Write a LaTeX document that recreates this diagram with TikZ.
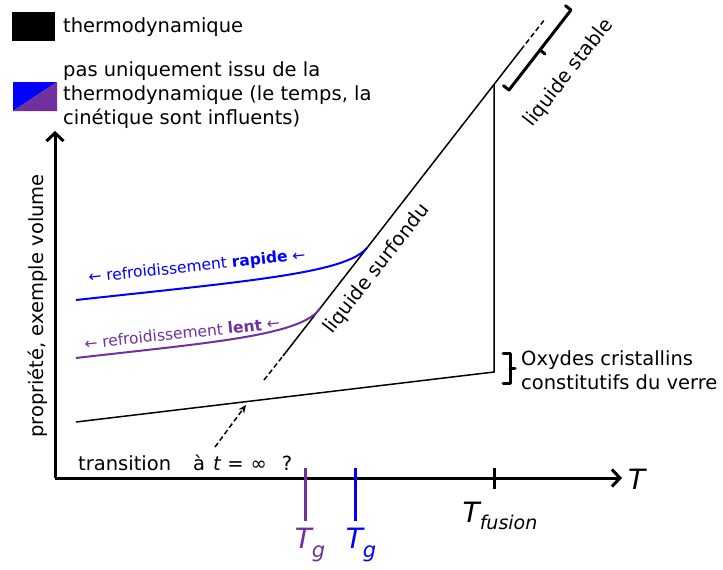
\documentclass[tikz,border=0pt]{standalone}
\usepackage{fontspec}
\setmainfont{DejaVu Sans}
\usetikzlibrary{arrows.meta}
\definecolor{myblue}{RGB}{0,0,255}
\definecolor{mypurple}{RGB}{112,48,160}
\begin{document}
\begin{tikzpicture}[x=1pt,y=-1pt,
  axisline/.style={line width=3pt,-{Straight Barb[length=8pt,width=17pt,line width=3pt]}},
  thinline/.style={line width=1.5pt},
  dashline/.style={line width=1.5pt,dash pattern=on 5pt off 3pt},
  curve/.style={line width=2pt},
  tick/.style={line width=3pt},
  brack/.style={line width=3pt,line cap=round,line join=round},
  txt/.style={inner sep=0pt,font=\fontsize{19.5}{24}\selectfont},
  small/.style={inner sep=0pt,font=\fontsize{15.5}{18}\selectfont},
  big/.style={inner sep=0pt,font=\fontsize{28}{28}\selectfont\itshape}
]
\useasboundingbox (0,0) rectangle (723,570);
% legend
\fill[black] (12,12) rectangle (55,41);
\fill[myblue] (13,82) -- (57,82) -- (13,111) -- cycle;
\fill[mypurple] (57,82) -- (57,111) -- (13,111) -- cycle;
\node[txt,anchor=west] (legthermo) at (63,27) {thermodynamique};
\node[txt,anchor=north west,align=left] (legkin) at (63,61) {pas uniquement issu de la\\thermodynamique (le temps, la\\cinétique sont influents)};
% axes
\coordinate (origin) at (55,478);
\coordinate (ytip) at (55,131);
\coordinate (xtip) at (622,478);
\draw[axisline] (origin) -- (ytip);
\draw[axisline] (origin) -- (xtip);
\node[big,anchor=west] (Tlab) at (628,479) {T};
\node[txt,rotate=90] (ylab) at (38,306) {propriété, exemple volume};
% key points
\coordinate (liq0) at (264,380);
\coordinate (liq1) at (283,356);
\coordinate (fus) at (494,84.5);
\coordinate (liq2) at (521,49.7);
\coordinate (liq3) at (545,19);
\coordinate (cry0) at (76,422);
\coordinate (cry1) at (494,372);
\coordinate (bluend) at (367,247.7);
\coordinate (purend) at (320,308.1);
% liquid line
\draw[dashline] (liq0) -- (liq1);
\draw[thinline] (liq1) -- (liq2);
\draw[dashline] (liq2) -- (liq3);
% crystal line
\draw[thinline] (cry0) -- (cry1) -- (fus);
% glass curves
\coordinate (blue0) at (76,300);
\coordinate (pur0) at (76,358);
\draw[curve,myblue] (blue0) .. controls (250,281) and (347,273) .. (bluend);
\draw[curve,mypurple] (pur0) .. controls (205,343) and (303,336) .. (purend);
\node[small,text=myblue,rotate=6] (rapide) at (197,267) {← refroidissement \textbf{rapide} ←};
\node[small,text=mypurple,rotate=6] (lent) at (182,333) {← refroidissement \textbf{lent} ←};
% labels on liquid line
\node[txt,rotate=52] (surf) at (377,269) {liquide surfondu};
\node[txt,rotate=52] (stable) at (569,73) {liquide stable};
% bracket liquide stable
\draw[brack] (503.5,85.7) -- (509,90) -- (571,10) -- (565.5,5.7);
\draw[brack] (540,50) -- (545,54);
% bracket oxydes
\draw[brack] (503,353) -- (510,353) -- (510,383) -- (503,383);
\draw[brack] (510,368) -- (515,368);
\node[txt,anchor=west,align=left] (oxy) at (521,370) {Oxydes cristallins\\constitutifs du verre};
% transition
\node[txt,anchor=west] (trans) at (78,463) {transition\hspace{22pt}à\hspace{8pt}\textit{t}\hspace{6pt}=\hspace{7pt}∞\hspace{15pt}?};
\coordinate (arrtip) at (246,405);
\draw[dashline,-{Stealth[length=8pt,width=7pt,open]}] (215,447) -- (arrtip);
% ticks
\draw[tick,mypurple] (305,468) -- (305,521);
\draw[tick,myblue] (355,468) -- (355,521);
\draw[tick] (494,468) -- (494,489);
\node[big,text=mypurple] (tgp) at (310,545) {T\raisebox{-0.3em}{\fontsize{21}{21}\selectfont g}};
\node[big,text=myblue] (tgb) at (361,545) {T\raisebox{-0.3em}{\fontsize{21}{21}\selectfont g}};
\node[big] (tfus) at (500,516) {T\raisebox{-0.25em}{\fontsize{19}{19}\selectfont fusion}};
\end{tikzpicture}
\end{document}
